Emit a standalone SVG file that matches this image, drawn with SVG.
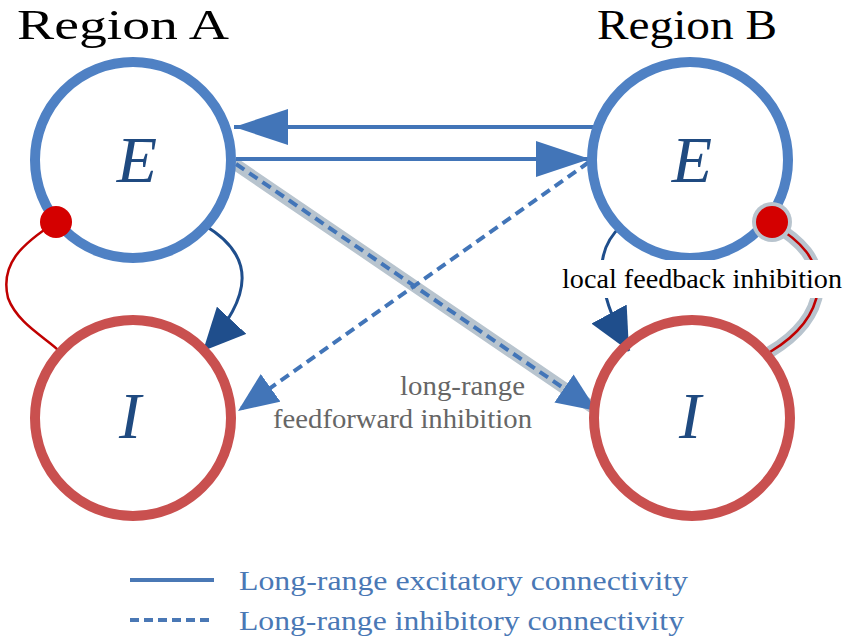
<svg xmlns="http://www.w3.org/2000/svg" width="850" height="644" viewBox="0 0 850 644">
<defs>
<style>
.title{font-family:"Liberation Serif","Times New Roman",serif;font-size:42px;fill:#000}
.var{font-family:"Liberation Serif","Times New Roman",serif;font-style:italic;font-size:66px;fill:#1f4a80}
.ecirc{fill:none;stroke:#4f81c4;stroke-width:10}
.icirc{fill:none;stroke:#c9504f;stroke-width:10}
.lr{fill:none;stroke:#4275b8;stroke-width:4}
.lrd{fill:none;stroke:#4275b8;stroke-width:4;stroke-dasharray:10,6}
.loc{fill:none;stroke:#1f4e8c;stroke-width:3}
.inh{fill:none;stroke:#c00000;stroke-width:2.5}
.halo{fill:none;stroke:#b8c4ce;stroke-width:12;stroke-linecap:round}
.lbl{font-family:"Liberation Serif","Times New Roman",serif;font-size:27px;fill:#666}
.leg{font-family:"Liberation Serif","Times New Roman",serif;font-size:28px;fill:#4a78b5}
</style>
<marker id="ah" markerUnits="userSpaceOnUse" markerWidth="56" markerHeight="36" refX="54" refY="18" orient="auto"><path d="M0,0 L54,18 L0,36 Z" fill="#4275b8"/></marker>
<marker id="ah2" markerUnits="userSpaceOnUse" markerWidth="42" markerHeight="34" refX="40" refY="17" orient="auto"><path d="M0,0 L40,17 L0,34 Z" fill="#4275b8"/></marker>
<marker id="ahd" markerUnits="userSpaceOnUse" markerWidth="44" markerHeight="40" refX="42" refY="20" orient="auto"><path d="M0,0 L42,20 L0,40 Z" fill="#1f4e8c"/></marker>
</defs>
<text class="title" x="17" y="39" textLength="212" lengthAdjust="spacingAndGlyphs">Region A</text>
<text class="title" x="597" y="39" textLength="180" lengthAdjust="spacingAndGlyphs">Region B</text>
<g id="connectors">
<line class="halo" x1="238" y1="166" x2="592" y2="407"/>
<line class="lrd" x1="236" y1="164" x2="597" y2="411" marker-end="url(#ah2)"/>
<line class="lrd" x1="589" y1="162" x2="238" y2="411" marker-end="url(#ah2)"/>
<line class="lr" x1="597" y1="127" x2="234" y2="127" marker-end="url(#ah)"/>
<line class="lr" x1="236" y1="159" x2="590" y2="159" marker-end="url(#ah)"/>
<path class="loc" d="M204,225 C255,255 255,295 203,351" marker-end="url(#ahd)"/>
<path class="inh" d="M56,222 C20,245 0,265 8,298 C18,325 50,340 60,352"/>
<path class="loc" d="M622,225 C600,245 588,275 629,351" marker-end="url(#ahd)"/>
<path class="halo" d="M772,224 C800,240 820,260 818,290 C814,320 790,340 770,352"/>
<path class="inh" d="M772,224 C800,240 820,260 818,290 C814,320 790,340 770,352"/>
</g>
<g id="EA"><circle class="ecirc" cx="133" cy="160" r="98"/><text class="var" x="137" y="182" text-anchor="middle">E</text></g>
<g id="IA"><circle class="icirc" cx="133" cy="418" r="98"/><text class="var" x="130" y="438" text-anchor="middle">I</text></g>
<g id="EB"><circle class="ecirc" cx="690" cy="160" r="98"/><text class="var" x="692" y="182" text-anchor="middle">E</text></g>
<g id="IB"><circle class="icirc" cx="692" cy="418" r="98"/><text class="var" x="690" y="438" text-anchor="middle">I</text></g>
<g id="dots">
<circle cx="56" cy="222" r="16" fill="#d40000"/>
<circle cx="772" cy="222" r="20" fill="#b8c4ce"/>
<circle cx="772" cy="222" r="16" fill="#d40000"/>
</g>
<rect x="556" y="260" width="292" height="38" fill="#fff"/>
<text x="562" y="288" font-family="Liberation Serif,Times New Roman,serif" font-size="28" fill="#000" textLength="280" lengthAdjust="spacingAndGlyphs">local feedback inhibition</text>
<text class="lbl" x="400" y="395" textLength="125" lengthAdjust="spacingAndGlyphs">long-range</text>
<text class="lbl" x="273" y="428" textLength="259" lengthAdjust="spacingAndGlyphs">feedforward inhibition</text>
<g id="legend">
<line x1="130" y1="580" x2="214" y2="580" stroke="#4a78b5" stroke-width="4"/>
<text class="leg" x="239" y="590" textLength="449" lengthAdjust="spacingAndGlyphs">Long-range excitatory connectivity</text>
<line x1="130" y1="620" x2="214" y2="620" stroke="#4a78b5" stroke-width="4" stroke-dasharray="9,5"/>
<text class="leg" x="239" y="630" textLength="445" lengthAdjust="spacingAndGlyphs">Long-range inhibitory connectivity</text>
</g>
</svg>
